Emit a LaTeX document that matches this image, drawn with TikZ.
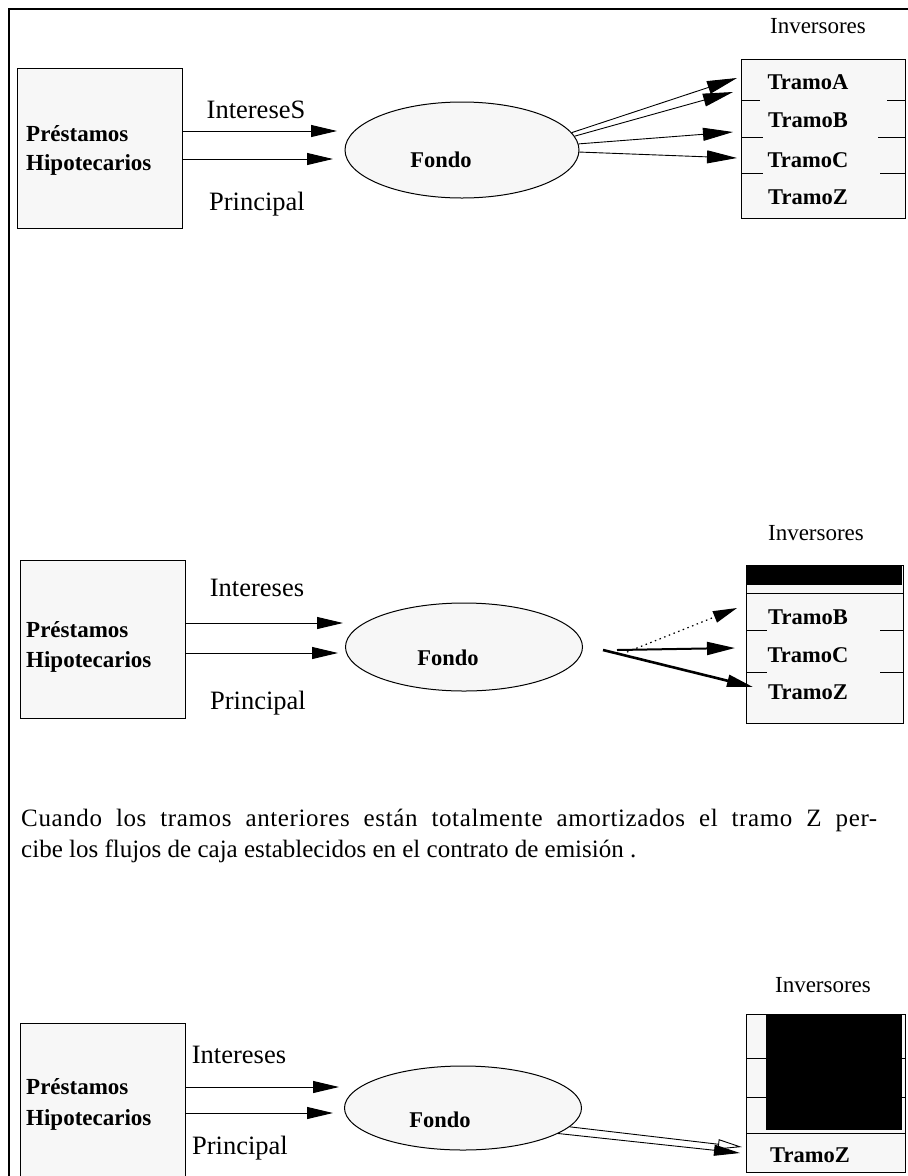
\documentclass[tikz,border=0pt]{standalone}
\usepackage{fontspec}
\setmainfont{Liberation Serif}
\usetikzlibrary{arrows.meta,shapes.geometric}

\tikzset{
  frame/.style={line width=1.8pt},
  pbox/.style={draw, line width=1pt, fill=black!3, inner sep=0pt},
  fondo/.style={ellipse, draw, line width=1pt, fill=black!3, inner sep=0pt},
  flow/.style={line width=1pt, -{Triangle[length=26pt,width=12pt]}},
  payout/.style={line width=0.9pt, -{Triangle[length=30pt,width=13pt]}},
  divider/.style={line width=1pt},
  lab/.style={font=\fontsize{26.5}{30}\selectfont, inner sep=0pt},
  inv/.style={font=\fontsize{23}{26}\selectfont, inner sep=0pt},
  tramo/.style={font=\bfseries\fontsize{22.5}{26}\selectfont, inner sep=0pt},
  prest/.style={font=\bfseries\fontsize{23}{26}\selectfont, inner sep=0pt, anchor=west},
  fondotxt/.style={font=\bfseries\fontsize{22.5}{26}\selectfont, inner sep=0pt},
  body/.style={font=\fontsize{25}{30}\selectfont, inner sep=0pt, anchor=base west},
}

\begin{document}
\begin{tikzpicture}[x=1pt, y=-1pt]
\useasboundingbox (0,0) rectangle (908,1176);

% page frame (left and top rules)
\coordinate (fTL) at (9,9);
\coordinate (fTR) at (908,9);
\coordinate (fBL) at (9,1176);
\draw[frame] (fBL) -- (fTL) -- (fTR);

% ================= first stage: all tranches alive =================
\node[pbox, minimum width=165pt, minimum height=160pt] (loans1) at (99.5,148) {};
\node[prest] (pre1) at (26,134) {Préstamos};
\node[prest] (hip1) at (26,165) {Hipotecarios};
\node[lab] (int1) at (256,110) {IntereseS};
\node[lab] (pri1) at (257,204) {Principal};
\node[fondo, minimum width=234pt, minimum height=96pt] (fondo1) at (462,150) {};
\node[fondotxt] (fondoT1) at (441,160) {Fondo};

\coordinate (i1) at (337,131);
\coordinate (p1) at (333,159);
\draw[flow] (loans1.east |- i1) -- (i1);
\draw[flow] (loans1.east |- p1) -- (p1);

\node[inv] (invL1) at (818,26) {Inversores};
\node[pbox, minimum width=164pt, minimum height=159pt] (inv1) at (823,138.5) {};
\node[tramo] (tA1) at (808,82) {TramoA};
\node[tramo] (tB1) at (808,120) {TramoB};
\node[tramo] (tC1) at (808,160) {TramoC};
\node[tramo] (tZ1) at (808,197) {TramoZ};
\draw[divider] (741,100) -- (760,100);  \draw[divider] (887,100) -- (905,100);
\draw[divider] (741,137) -- (763,137);  \draw[divider] (878,137) -- (905,137);
\draw[divider] (741,173) -- (763,173);  \draw[divider] (880,173) -- (905,173);

\coordinate (a1) at (737,78);
\coordinate (b1) at (733,92);
\coordinate (c1) at (733,132);
\coordinate (d1) at (737,158);
\draw[payout] (fondo1.9) -- (a1);
\draw[payout] (fondo1.7) -- (b1);
\draw[payout] (fondo1.3) -- (c1);
\draw[payout] (fondo1.-1) -- (d1);

% ================= second stage: tranche A repaid =================
\node[pbox, minimum width=165pt, minimum height=158pt] (loans2) at (102.5,639) {};
\node[prest] (pre2) at (26,630) {Préstamos};
\node[prest] (hip2) at (26,662) {Hipotecarios};
\node[lab] (int2) at (257,588) {Intereses};
\node[lab] (pri2) at (258,703) {Principal};
\node[fondo, minimum width=237pt, minimum height=88pt] (fondo2) at (464,647) {};
\node[fondotxt] (fondoT2) at (448,658) {Fondo};

\coordinate (i2) at (343,623);
\coordinate (p2) at (338,653);
\draw[flow] (loans2.east |- i2) -- (i2);
\draw[flow] (loans2.east |- p2) -- (p2);

\node[inv] (invL2) at (816,533) {Inversores};
\node[pbox, minimum width=157pt, minimum height=158pt] (inv2) at (824.5,644) {};
\fill (746,565) rectangle (902,585);
\draw[divider] (746,593) -- (903,593);
\node[tramo] (tB2) at (808,617) {TramoB};
\node[tramo] (tC2) at (808,655) {TramoC};
\node[tramo] (tZ2) at (808,692) {TramoZ};
\draw[divider] (746,630) -- (767,630);  \draw[divider] (880,630) -- (903,630);
\draw[divider] (746,672) -- (767,672);  \draw[divider] (880,672) -- (903,672);

\coordinate (s2a) at (627,652);
\coordinate (s2b) at (617,650);
\coordinate (s2c) at (603,650);
\coordinate (b2) at (737,608);
\coordinate (c2) at (735,648);
\coordinate (z2) at (753,687);
\draw[line width=1.2pt, dash pattern=on 1.5pt off 3.5pt,
      -{Triangle[length=24pt,width=12pt]}] (s2a) -- (b2);
\draw[line width=2pt, -{Triangle[length=28pt,width=13pt]}] (s2b) -- (c2);
\draw[line width=2.6pt, -{Triangle[length=26pt,width=12pt]}] (s2c) -- (z2);

% explanatory paragraph (first line justified, slightly letter-spaced)
\node[body] (txt1) at (21,826)
  {\addfontfeatures{LetterSpace=2.5}\hbox to 856pt{Cuando los tramos anteriores están totalmente amortizados el tramo Z per-}};
\node[body] (txt2) at (21,857)
  {cibe los flujos de caja establecidos en el contrato de emisión .};

% ================= third stage: only tranche Z remains =================
\node[pbox, minimum width=165pt, minimum height=170pt] (loans3) at (102.5,1108) {};
\node[prest] (pre3) at (26,1087) {Préstamos};
\node[prest] (hip3) at (26,1120) {Hipotecarios};
\node[lab] (int3) at (239,1055) {Intereses};
\node[lab] (pri3) at (240,1148) {Principal};
\node[fondo, minimum width=237pt, minimum height=84pt] (fondo3) at (463,1108) {};
\node[fondotxt] (fondoT3) at (440,1120) {Fondo};

\coordinate (i3) at (339,1087);
\coordinate (p3) at (333,1113);
\draw[flow] (loans3.east |- i3) -- (i3);
\draw[flow] (loans3.east |- p3) -- (p3);

\node[inv] (invL3) at (823,985) {Inversores};
\node[pbox, minimum width=159pt, minimum height=158pt] (inv3) at (825.5,1093) {};
\fill (766,1014) rectangle (902,1130);
\draw[divider] (746,1058) -- (766,1058);  \draw[divider] (902,1058) -- (905,1058);
\draw[divider] (746,1097) -- (766,1097);  \draw[divider] (902,1097) -- (905,1097);
\draw[divider] (746,1133) -- (905,1133);
\node[tramo] (tZ3) at (810,1155) {TramoZ};

\coordinate (z3a) at (742,1147);
\coordinate (z3b) at (740,1153);
\draw[line width=0.9pt, -{Triangle[open,length=24pt,width=10pt]}] (fondo3.-10) -- (z3a);
\draw[line width=0.9pt, -{Triangle[length=26pt,width=11pt]}] (fondo3.-15) -- (z3b);
\end{tikzpicture}
\end{document}
